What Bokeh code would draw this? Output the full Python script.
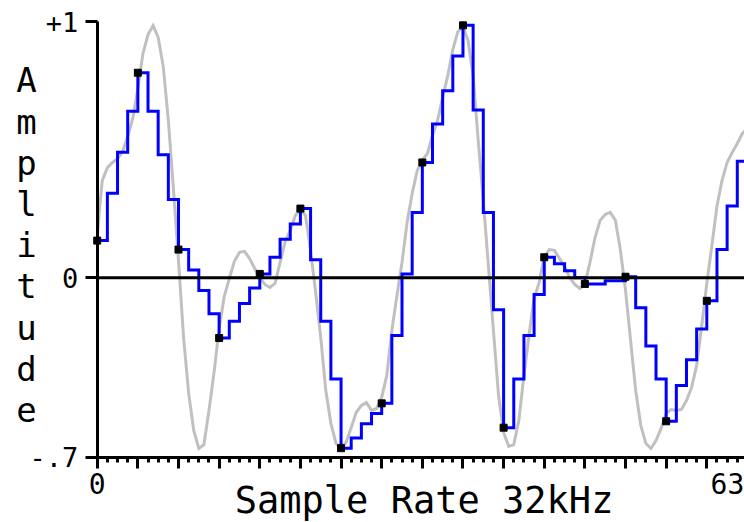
from bokeh.plotting import figure
from bokeh.models import FixedTicker, Label, Range1d
from bokeh.embed import file_html
from bokeh.resources import INLINE

# ---- data ----
sample_index = list(range(64))
held_value = [0.145, 0.33, 0.49, 0.65, 0.80, 0.65, 0.48, 0.305,
              0.11, 0.03, -0.05, -0.14, -0.235, -0.17, -0.10, -0.04,
              0.015, 0.08, 0.15, 0.21, 0.27, 0.07, -0.17, -0.395,
              -0.665, -0.625, -0.57, -0.53, -0.49, -0.225, 0.015, 0.255,
              0.45, 0.60, 0.73, 0.865, 0.985, 0.655, 0.255, -0.125,
              -0.585, -0.395, -0.225, -0.065, 0.08, 0.055, 0.027, 0.0,
              -0.024, -0.024, -0.012, -0.012, 0.004, -0.117, -0.266, -0.395,
              -0.56, -0.42, -0.32, -0.20, -0.09, 0.11, 0.28, 0.455]

signal_t = [0.0, 0.25, 0.5, 1.0, 1.5, 2.0, 2.5, 3.0, 3.5, 4.0, 4.5, 5.0, 5.5, 6.0, 6.5, 7.0, 7.5,
            8.0, 8.5, 9.0, 9.5, 10.0, 10.5, 11.0, 11.5, 12.0, 12.5, 13.0, 13.5, 14.0, 14.5,
            15.0, 15.5, 16.0, 16.5, 17.0, 17.5, 18.0, 18.5, 19.0, 19.5, 20.0, 20.5, 21.0,
            21.5, 22.0, 22.5, 23.0, 23.5, 24.0, 24.5, 25.0, 25.5, 26.0, 26.5, 27.0, 27.5,
            28.0, 28.5, 29.0, 29.5, 30.0, 30.5, 31.0, 31.5, 32.0, 32.5, 33.0, 33.5, 34.0,
            34.5, 35.0, 35.5, 36.0, 36.5, 37.0, 37.5, 38.0, 38.5, 39.0, 39.5, 40.0, 40.5,
            41.0, 41.5, 42.0, 42.5, 43.0, 43.5, 44.0, 44.5, 45.0, 45.5, 46.0, 46.5, 47.0,
            47.5, 48.0, 48.5, 49.0, 49.5, 50.0, 50.5, 51.0, 51.5, 52.0, 52.5, 53.0, 53.5,
            54.0, 54.5, 55.0, 55.5, 56.0, 56.5, 57.0, 57.5, 58.0, 58.5, 59.0, 59.5, 60.0,
            60.5, 61.0, 61.5, 62.0, 62.5, 63.0, 63.5, 63.8]
signal_v = [0.153, 0.28, 0.38, 0.43, 0.45, 0.465, 0.493, 0.551, 0.622, 0.739, 0.875, 0.949,
            0.984, 0.938, 0.824, 0.614, 0.348, 0.067, -0.233, -0.451, -0.596, -0.666, -0.651,
            -0.518, -0.369, -0.198, -0.073, -0.003, 0.064, 0.099, 0.103, 0.075, 0.036, 0.001,
            -0.026, -0.038, -0.022, 0.06, 0.142, 0.185, 0.243, 0.27, 0.243, 0.107, -0.057,
            -0.233, -0.44, -0.568, -0.646, -0.666, -0.642, -0.584, -0.525, -0.498, -0.487,
            -0.518, -0.51, -0.467, -0.381, -0.206, -0.069, 0.06, 0.216, 0.329, 0.419, 0.458,
            0.485, 0.555, 0.614, 0.703, 0.789, 0.89, 0.961, 0.98, 0.926, 0.789, 0.536, 0.302,
            0.048, -0.206, -0.459, -0.604, -0.658, -0.651, -0.557, -0.381, -0.225, -0.081,
            -0.018, 0.083, 0.11, 0.107, 0.075, 0.044, 0.001, -0.026, -0.042, -0.026, 0.06,
            0.157, 0.224, 0.247, 0.255, 0.224, 0.107, -0.049, -0.245, -0.44, -0.576, -0.646,
            -0.666, -0.635, -0.588, -0.529, -0.514, -0.518, -0.514, -0.479, -0.428, -0.342,
            -0.186, -0.022, 0.126, 0.28, 0.38, 0.45, 0.489, 0.524, 0.563, 0.575]

x_major_ticks = list(range(0, 64, 4))
x_minor_ticks = list(range(0, 64))
x_tick_text = {0: "0"}
x_end_label = "63"
y_ticks = [-0.7, 0, 1]
y_tick_text = {-0.7: "-.7", 0: "0", 1: "+1"}
x_title = "Sample Rate 32kHz"
y_title = "Amplitude"

FONT = "DejaVu Sans Mono"
X0, X1 = -9.52, 63.71          # visible sample range (whole canvas)
Y0, Y1 = -0.955, 1.082         # visible amplitude range (whole canvas)

p = figure(width=744, height=522, output_backend="svg", toolbar_location=None,
           x_range=Range1d(X0, X1), y_range=Range1d(Y0, Y1),
           min_border=0, min_border_left=0, min_border_right=0,
           min_border_top=0, min_border_bottom=0)
p.outline_line_color = None
p.xgrid.visible = False
p.ygrid.visible = False
p.background_fill_color = "white"
p.border_fill_color = "white"

# continuous signal (grey)
p.line(signal_t, signal_v, line_color="#c0c0c0", line_width=3, line_join="miter")

# sample-and-hold (blue)
step_x = sample_index + [sample_index[-1] + 1]
step_y = held_value + [held_value[-1]]
p.step(step_x, step_y, mode="after", line_color="#0000ff", line_width=3, line_join="miter")

# zero reference line, from the origin to the right
p.ray(x=[0], y=[0], length=0, angle=0, line_color="black", line_width=3)

# sample markers every 4th sample
p.scatter(sample_index[::4], held_value[::4], marker="square", size=7,
          fill_color="black", line_color="black")

# axes, pinned to the data origin
xa = p.xaxis[0]
xa.fixed_location = y_ticks[0]
xa.bounds = (0, X1)
xa.ticker = FixedTicker(ticks=x_major_ticks, minor_ticks=x_minor_ticks)
xa.major_label_overrides = {t: x_tick_text.get(t, "") for t in x_major_ticks}
xa.axis_line_width = 3
xa.axis_line_color = "black"
xa.major_tick_in = 0
xa.major_tick_out = 11
xa.minor_tick_in = 0
xa.minor_tick_out = 5
xa.major_tick_line_width = 3
xa.minor_tick_line_width = 3
xa.major_label_text_font = FONT
xa.major_label_text_font_size = "28px"
xa.major_label_text_color = "black"
xa.major_label_standoff = 5

ya = p.yaxis[0]
ya.fixed_location = 0
ya.bounds = (y_ticks[0], y_ticks[-1])
ya.ticker = FixedTicker(ticks=y_ticks, minor_ticks=[])
ya.major_label_overrides = y_tick_text
ya.axis_line_width = 3
ya.axis_line_color = "black"
ya.major_tick_in = 0
ya.major_tick_out = 12
ya.major_tick_line_width = 3
ya.minor_tick_line_color = None
ya.major_label_text_font = FONT
ya.major_label_text_font_size = "27px"
ya.major_label_text_color = "black"
ya.major_label_standoff = 7

# extra texts
p.add_layout(Label(x=63, y=-0.803, x_offset=7, text=x_end_label, text_align="right",
                   text_baseline="alphabetic", text_font=FONT, text_font_size="28px",
                   text_color="black"))
p.add_layout(Label(x=32.17, y=-0.870, text=x_title, text_align="center",
                   text_baseline="alphabetic", text_font=FONT, text_font_size="37px",
                   text_color="black"))
p.add_layout(Label(x=-6.96, y=0.848, text="\n".join(y_title), text_align="center",
                   text_baseline="top", text_font=FONT, text_font_size="34px",
                   text_line_height=1.03, text_color="black"))

open("out.html", "w").write(file_html(p, INLINE))
